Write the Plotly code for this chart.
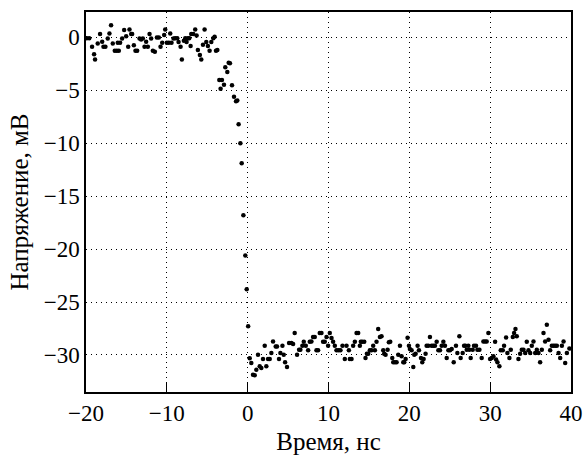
import plotly.graph_objects as go

# Время, нс (до фронта)
t_before = [-19.9, -19.6, -19.25, -19.0, -18.88, -18.55, -18.26, -18.0, -17.84, -17.6,
            -17.31, -17.1, -16.9, -16.69, -16.44, -16.19, -16.07, -15.94, -15.78, -15.53,
            -15.28, -15.03, -14.78, -14.62, -14.41, -14.29, -14.08, -13.88, -13.67, -13.38,
            -13.18, -12.97, -12.76, -12.56, -12.35, -12.14, -11.94, -11.73, -11.48, -11.23,
            -10.99, -10.78, -10.57, -10.33, -10.2, -10.0, -9.75, -9.58, -9.42, -9.17,
            -8.96, -8.71, -8.55, -8.3, -8.14, -7.89, -7.72, -7.56, -7.39, -7.23,
            -7.06, -6.98, -6.73, -6.49, -6.32, -6.16, -5.91, -5.74, -5.53, -5.33,
            -5.12, -4.92, -4.71, -4.5, -4.25, -4.09, -3.92, -3.75]
v_before = [-0.07, -0.07, -0.88, -1.6, -2.08, -0.57, 0.31, -0.41, -0.88, -0.88,
            -0.1, 0.38, 1.16, -0.57, -1.26, -1.26, -0.5, -1.26, -0.5, -0.1,
            0.69, 0.12, -0.88, 0.75, 0.31, 0.31, -0.73, -1.26, -1.26, -0.1,
            -0.19, -0.1, -0.88, -0.41, -0.88, 0.31, -0.1, -1.26, -1.35, 0.0,
            0.0, -0.88, -0.5, 0.22, 0.75, -0.5, -0.5, 0.38, -0.5, -0.1,
            -0.07, -0.07, -0.44, -0.88, -2.08, -0.31, -0.07, -0.44, -0.07, -0.07,
            -0.82, 0.31, 0.31, 0.75, 0.19, -1.2, -1.67, -2.08, -0.7, 0.75,
            -0.44, -0.82, -1.26, -0.44, -0.07, 0.06, -1.26, -1.2]

# фронт
t_edge = [-3.51, -3.35, -3.18, -2.93, -2.77, -2.52, -2.35, -2.19, -1.94, -1.69,
          -1.44, -1.28, -1.12, -0.9, -0.74, -0.53, -0.29, -0.12, 0.06]
v_edge = [-4.03, -4.85, -4.03, -4.47, -2.83, -3.27, -2.39, -2.45, -4.53, -5.6,
          -6.04, -5.95, -8.2, -10.0, -11.9, -16.8, -20.6, -23.8, -27.3]

# после фронта
t_after = [0.25, 0.45, 0.66, 0.87, 1.07, 1.28, 1.49, 1.69, 1.9, 2.11,
           2.31, 2.52, 2.73, 2.93, 3.14, 3.47, 3.63, 3.88, 4.05, 4.3,
           4.46, 4.63, 4.87, 5.12, 5.41, 5.62, 5.82, 6.11, 6.36, 6.52,
           6.77, 6.94, 7.19, 7.48, 7.68, 7.89, 8.09, 8.3, 8.51, 8.71,
           8.92, 9.13, 9.33, 9.54, 9.75, 9.95, 10.16, 10.37, 10.57, 10.78,
           10.99, 11.24, 11.48, 11.73, 12.02,
           12.23, 12.52, 12.64, 12.85, 13.05, 13.26, 13.47, 13.67, 13.88, 14.0,
           14.17, 14.42, 14.58, 14.75, 14.91, 15.12, 15.32, 15.53, 15.74, 15.94,
           16.15, 16.36, 16.56, 16.77, 16.89, 17.06, 17.31, 17.47, 17.64, 17.89,
           18.01, 18.22, 18.42, 18.63, 18.84, 19.04, 19.25, 19.37, 19.54, 19.78,
           19.95, 20.07, 20.28, 20.49, 20.61, 20.78, 21.02, 21.19, 21.44, 21.6,
           21.77, 22.01, 22.14, 22.35, 22.55, 22.76, 22.97, 23.17, 23.38, 23.59,
           23.79, 24.0, 24.21, 24.41, 24.62, 24.83, 25.03, 25.24, 25.49,
           25.77, 25.94, 26.19, 26.35, 26.6, 26.77, 26.93, 27.1, 27.3, 27.43,
           27.59, 27.84, 28.0, 28.25, 28.42, 28.67, 28.95, 29.16, 29.37, 29.57,
           29.78, 29.99, 30.19, 30.4, 30.61, 30.73, 30.9, 31.14, 31.31, 31.56,
           31.72, 31.97, 32.13, 32.38, 32.55, 32.8, 32.96, 33.13, 33.29, 33.5,
           33.71, 33.91, 34.12, 34.33, 34.53, 34.74, 34.95, 35.15, 35.36, 35.57,
           35.77, 35.98, 36.18, 36.39, 36.6, 36.8, 37.01, 37.22, 37.42, 37.63,
           37.84, 38.04, 38.25, 38.46, 38.66, 38.87, 39.08, 39.28, 39.49, 39.8]
v_after = [-30.3, -30.76, -31.86, -31.92, -31.39, -29.97, -31.07, -31.23, -30.38, -29.13,
           -31.07, -30.38, -30.38, -29.81, -28.72, -29.19, -29.19, -30.38, -29.81, -29.13,
           -29.97, -30.69, -31.14, -28.87, -28.87, -28.97, -27.93, -29.97, -29.5, -29.5,
           -29.13, -28.75, -29.13, -29.56, -28.75, -28.72, -28.3, -28.3, -29.56, -29.56,
           -27.93, -27.93, -28.75, -28.75, -28.3, -29.13, -27.93, -28.4, -28.75, -29.13,
           -29.56, -29.56, -29.56, -29.13, -30.38,
           -29.13, -29.56, -30.38, -30.38, -29.13, -28.75, -27.93, -27.93, -29.13, -28.75,
           -28.75, -28.75, -30.28, -29.88, -29.88, -29.56, -29.56, -29.13, -29.56, -28.75,
           -27.55, -28.3, -28.24, -29.56, -29.88, -29.97, -29.5, -28.81, -28.75, -30.28,
           -30.69, -30.69, -30.69, -29.97, -29.13, -30.13, -30.69, -30.69, -30.38, -28.37,
           -29.13, -29.44, -29.56, -31.14, -29.97, -29.88, -29.13, -29.56, -30.28, -30.69,
           -30.38, -29.88, -29.13, -29.13, -28.3, -29.13, -29.13, -29.13, -28.75, -29.56,
           -29.56, -29.13, -28.75, -29.13, -30.28, -29.56, -29.56, -29.44, -30.69,
           -29.13, -29.81, -28.24, -30.28, -29.81, -29.13, -29.13, -29.5, -29.13, -29.5,
           -30.28, -29.5, -29.13, -29.13, -29.5, -29.5, -30.28, -28.72, -28.72, -28.72,
           -27.93, -30.38, -30.28, -30.13, -28.75, -30.44, -30.69, -31.07, -29.56, -29.56,
           -29.13, -28.34, -29.81, -30.28, -29.5, -28.3, -27.93, -27.55, -28.24, -30.38,
           -29.88, -29.5, -29.5, -29.81, -28.75, -29.56, -29.81, -29.13, -28.72, -29.81,
           -29.5, -29.81, -30.69, -29.5, -27.93, -28.72, -27.14, -28.56, -29.56, -29.13,
           -29.13, -29.13, -29.13, -29.81, -30.28, -29.13, -28.72, -30.76, -29.81, -29.4]

x_ticks = [-20, -10, 0, 10, 20, 30, 40]
y_ticks = [0, -5, -10, -15, -20, -25, -30]

t = t_before + t_edge + t_after
v = v_before + v_edge + v_after

font = "Liberation Serif, Times New Roman, serif"

fig = go.Figure(go.Scatter(x=t, y=v, mode="markers",
                           marker=dict(color="black", size=4.5, line=dict(width=0))))

axis_style = dict(showline=True, linecolor="black", linewidth=1.5, mirror=True,
                  showgrid=True, gridcolor="black", griddash="1px,4px", gridwidth=1,
                  zeroline=False, automargin=False,
                  tickfont=dict(family=font, size=23, color="black"))

fig.update_xaxes(range=[-20, 40], tickvals=x_ticks, ticks="inside", ticklen=10,
                 tickcolor="black", tickwidth=1,
                 title=dict(text="Время, нс", font=dict(family=font, size=25, color="black"),
                            standoff=8),
                 **axis_style)
fig.update_yaxes(range=[-33.5, 2.4], tickvals=y_ticks, ticks="",
                 title=dict(text="Напряжение, мВ", font=dict(family=font, size=25, color="black"),
                            standoff=8),
                 **axis_style)

fig.update_layout(width=584, height=455, margin=dict(l=86, r=13, t=12, b=63),
                  plot_bgcolor="white", paper_bgcolor="white", showlegend=False,
                  font=dict(family=font))

# убрать стандартный отступ страницы, чтобы график встал в окно целиком
fig.write_html("out.html", config={"displayModeBar": False},
               post_script="document.body.style.margin = '0';")
